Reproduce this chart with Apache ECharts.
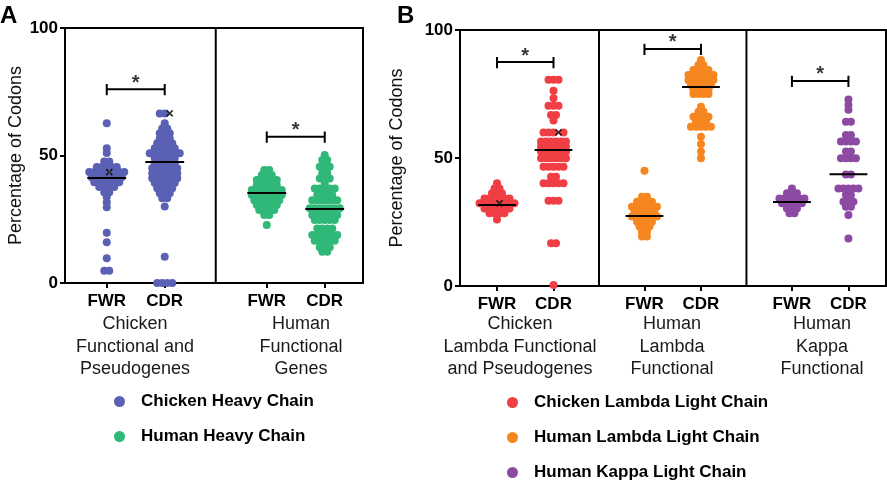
<!DOCTYPE html>
<html><head><meta charset="utf-8">
<script src="https://cdn.jsdelivr.net/npm/echarts@6/dist/echarts.min.js"></script>
<style>html,body{margin:0;padding:0;background:#fff}#c{width:887px;height:481px}</style>
</head><body><div id="c"></div>
<script>
// ---------- DATA ----------
const regionLabels = ['FWR', 'CDR'];
const yTicks = [0, 50, 100];
const yAxisTitle = 'Percentage of Codons';

const groupNamesA = ['Chicken Heavy Chain', 'Human Heavy Chain'];
const groupLabelsA = ['Chicken\nFunctional and\nPseudogenes', 'Human\nFunctional\nGenes'];
const groupNamesB = ['Chicken Lambda Light Chain', 'Human Lambda Light Chain', 'Human Kappa Light Chain'];
const groupLabelsB = ['Chicken\nLambda Functional\nand Pseudogenes', 'Human\nLambda\nFunctional', 'Human\nKappa\nFunctional'];

const chickenHeavyFWR = [62.6, 52.8, 51, 47.6, 47.6,
  45.5, 45.5, 45.5, 45.5, 45.5,
  43.5, 43.5, 43.5, 43.5, 43.5, 43.5, 43.5,
  41.5, 41.5, 41.5, 41.5, 41.5, 41.5, 41.5,
  39.5, 39.5, 39.5, 39.5, 39.5, 39.5,
  37.6, 37.6, 37.6, 37.6, 35.6, 35.6, 33.7, 31.7, 29.7, 19.7, 16, 9.7, 4.8, 4.8];
const chickenHeavyCDR = [66.5, 66.5, 62.6, 60.6, 60.6, 58.7, 58.7, 58.7, 56.7, 56.7, 56.7,
  54.8, 54.8, 54.8, 54.8, 52.8, 52.8, 52.8, 52.8, 52.8,
  50.9, 50.9, 50.9, 50.9, 50.9, 50.9, 50.9, 48.9, 48.9, 48.9, 48.9, 48.9,
  47, 47, 47, 47, 47, 45, 45, 45, 45, 45, 45, 43, 43, 43, 43, 43, 43,
  41.1, 41.1, 41.1, 41.1, 41.1, 41.1, 39.2, 39.2, 39.2, 39.2, 39.2,
  37.2, 37.2, 37.2, 37.2, 35.2, 35.2, 35.2, 33.2, 33.2, 30, 10.3, 0, 0, 0, 0];
const humanHeavyFWR = [44.3, 44.3, 42.4, 42.4, 42.4, 40.4, 40.4, 40.4, 40.4, 40.4,
  38.4, 38.4, 38.4, 38.4, 38.4, 36.5, 36.5, 36.5, 36.5, 36.5, 36.5, 36.5,
  34.5, 34.5, 34.5, 34.5, 34.5, 34.5, 34.5, 32.5, 32.5, 32.5, 32.5, 32.5, 32.5,
  30.6, 30.6, 30.6, 30.6, 30.6, 28.6, 28.6, 28.6, 28.6, 26.7, 26.7, 22.7];
const humanHeavyCDR = [50.2, 48.2, 48.2, 45.6, 45.6, 45.6, 43, 43, 41, 41, 41, 39,
  37.1, 37.1, 37.1, 37.1, 37.1, 34.5, 34.5, 34.5, 34.5, 32.5, 32.5, 32.5, 32.5, 32.5, 32.5,
  29.3, 29.3, 29.3, 29.3, 29.3, 29.3, 29.3, 26.7, 26.7, 26.7, 26.7, 26.7, 26.7,
  24.7, 24.7, 24.7, 24.7, 24.7, 21.4, 21.4, 21.4, 21.4, 18.8, 18.8, 18.8, 18.8, 18.8, 18.8,
  16.6, 16.6, 16.6, 16.6, 16.6, 14, 14, 14, 12.3, 12.3];
const chickenLambdaFWR = [40.1, 38.1, 38.1, 36.2, 36.2, 36.2, 34.2, 34.2, 34.2, 34.2, 34.2, 34.2,
  32.3, 32.3, 32.3, 32.3, 32.3, 32.3, 32.3, 30.3, 30.3, 30.3, 30.3, 30.3, 30.3,
  28.4, 28.4, 28.4, 28.4, 26];
const chickenLambdaCDR = [80.6, 80.6, 80.6, 76.3, 73.3, 70.4, 70.4, 70.4, 66.8, 66.8, 64.6,
  60, 60, 60, 60, 56.4, 56.4, 56.4, 56.4, 56.4, 56.4, 54.4, 54.4, 54.4, 54.4, 54.4, 54.4,
  52.5, 52.5, 52.5, 52.5, 52.5, 52.5, 49.9, 49.9, 49.9, 49.9, 49.9, 49.9,
  46.6, 46.6, 46.6, 46.6, 46.6, 42.7, 42.7, 40.1, 40.1, 40.1, 40.1, 40.1,
  33.3, 33.3, 33.3, 16.7, 16.7, 0.4];
const humanLambdaFWR = [45, 34.9, 34.9, 32.9, 32.9, 32.9, 32.9, 31, 31, 31, 31, 31, 31,
  29, 29, 29, 29, 29, 27.1, 27.1, 27.1, 27.1, 27.1, 27.1, 25.1, 25.1, 25.1, 25.1,
  23.2, 23.2, 23.2, 21.2, 21.2, 19.3, 19.3];
const humanLambdaCDR = [88.3, 86.3, 86.3, 84.4, 84.4, 84.4, 84.4, 82.4, 82.4, 82.4, 82.4, 82.4, 82.4,
  80.5, 80.5, 80.5, 80.5, 80.5, 80.5, 78.5, 78.5, 78.5, 78.5, 78.5, 76.6, 76.6, 76.6, 76.6,
  75, 75, 75, 75, 70, 68.1, 68.1, 66.1, 66.1, 66.1, 66.1, 64.2, 64.2, 64.2,
  62.2, 62.2, 62.2, 62.2, 62.2, 58.3, 55.5, 52.5, 49.9];
const humanKappaFWR = [38.1, 36.2, 36.2, 36.2, 34.2, 34.2, 34.2, 34.2, 34.2, 34.2,
  32.3, 32.3, 32.3, 32.3, 32.3, 30.3, 30.3, 30.3, 28.4, 28.4];
const humanKappaCDR = [72.9, 70.7, 68.8, 64.2, 64.2, 59, 59, 56.4, 56.4, 56.4, 56.4, 52.5, 52.5,
  49.9, 49.9, 49.9, 49.9, 43.6, 43.6, 38.1, 38.1, 38.1, 38.1, 38.1, 35.5, 35.5,
  32.9, 32.9, 32.9, 31, 31, 27.7, 18.6];

// values marked with a cross instead of a dot: [FWR, CDR] per group (null = none)
const crossA = [[43.5, 66.5], [null, null]];
const crossB = [[32.3, 60], [null, null], [null, null]];
// centre (horizontal black) lines: [FWR, CDR]
const centreA = [[41.2, 47.5], [35.3, 29.0]];
const centreB = [[31.6, 53.1], [27.3, 77.7], [32.8, 43.7]];
// significance bracket heights
const bracketA = [76, 57.4];
const bracketB = [87.5, 92.6, 80.1];

const colorsA = ['#5a60b4', '#2fb878'];
const colorsB = ['#ef3e44', '#f6861f', '#8d4aa3'];

// ---------- LAYOUT ----------
const GA = {left: 65, top: 28, width: 298, height: 255, xmin: -0.72, xmax: 4.42, groupStep: 2.76, gap: 40, div: [1.88]};
const GB = {left: 460, top: 30, width: 426, height: 256, xmin: -0.655, xmax: 6.885, groupStep: 2.61, gap: 54, div: [1.805, 4.415]};
const DOT = 8, STEP = 5, HALF = 0.335;
const FONT = 'Liberation Sans, Arial, sans-serif';

function positions(G, nGroups) {
  const p = [];
  for (let g = 0; g < nGroups; g++) p.push([g * G.groupStep, g * G.groupStep + 1]);
  return p;
}
function swarm(values, cross, center, pxPerUnit) {
  const rows = new Map();
  values.forEach(v => { if (!rows.has(v)) rows.set(v, 0); rows.set(v, rows.get(v) + 1); });
  if (cross != null && !rows.has(cross)) rows.set(cross, 0);
  const dots = [], crosses = [];
  rows.forEach((cnt, v) => {
    const hasX = cross === v;
    const n = cnt + (hasX ? 1 : 0);
    const xi = hasX ? (n > 4 ? Math.ceil(n / 2) : n - 1) : -1;
    for (let i = 0; i < n; i++) {
      const x = center + (i - (n - 1) / 2) * STEP / pxPerUnit;
      if (i === xi) crosses.push([x, v]); else dots.push([x, v]);
    }
  });
  return {dots, crosses};
}

const series = [];
function buildPanel(G, idx, names, colors, dataSets, crosses, centres, brackets) {
  const ppu = G.width / (G.xmax - G.xmin);
  const pos = positions(G, names.length);
  names.forEach((name, g) => {
    let dots = [], cr = [];
    for (let r = 0; r < 2; r++) {
      const s = swarm(dataSets[g][r], crosses[g][r], pos[g][r], ppu);
      dots = dots.concat(s.dots); cr = cr.concat(s.crosses);
    }
    series.push({type: 'scatter', name, xAxisIndex: idx, yAxisIndex: idx, data: dots, symbolSize: DOT,
      itemStyle: {color: colors[g], opacity: 1}, z: 2, silent: true});
    if (cr.length) series.push({type: 'scatter', name: 'cross', xAxisIndex: idx, yAxisIndex: idx, data: cr,
      symbol: 'path://M0,0L10,10M10,0L0,10', symbolSize: 6,
      itemStyle: {color: 'none', borderColor: '#000', borderWidth: 1.6}, z: 4, silent: true});
    for (let r = 0; r < 2; r++) {
      series.push({type: 'line', xAxisIndex: idx, yAxisIndex: idx, symbol: 'none', silent: true, z: 5,
        lineStyle: {color: '#000', width: 2},
        data: [[pos[g][r] - HALF, centres[g][r]], [pos[g][r] + HALF, centres[g][r]]]});
    }
    const b = brackets[g], x0 = pos[g][0], x1 = pos[g][1];
    series.push({type: 'line', xAxisIndex: idx, yAxisIndex: idx, symbol: 'none', silent: true, z: 5,
      lineStyle: {color: '#000', width: 2},
      data: [[x0, b + 2], [x0, b - 2.4], [x0, b], [x1, b], [x1, b + 2], [x1, b - 2.4]]});
    series.push({type: 'scatter', xAxisIndex: idx, yAxisIndex: idx, symbolSize: 1, silent: true, z: 6,
      itemStyle: {color: 'rgba(0,0,0,0)'}, data: [[(x0 + x1) / 2, b]],
      label: {show: true, formatter: '*', position: 'inside', offset: [0, -6], fontSize: 20, fontWeight: 'bold', color: '#000', fontFamily: FONT}});
  });
  G.div.forEach(d => series.push({type: 'line', xAxisIndex: idx, yAxisIndex: idx, symbol: 'none', silent: true, z: 5,
    lineStyle: {color: '#000', width: 2}, data: [[d, 0], [d, 100]]}));
  return pos;
}
const posA = buildPanel(GA, 0, groupNamesA, colorsA,
  [[chickenHeavyFWR, chickenHeavyCDR], [humanHeavyFWR, humanHeavyCDR]], crossA, centreA, bracketA);
const posB = buildPanel(GB, 1, groupNamesB, colorsB,
  [[chickenLambdaFWR, chickenLambdaCDR], [humanLambdaFWR, humanLambdaCDR], [humanKappaFWR, humanKappaCDR]], crossB, centreB, bracketB);

function xAxis(G, idx, pos) {
  const vals = [].concat(...pos);
  return {type: 'value', gridIndex: idx, min: G.xmin, max: G.xmax,
    axisLine: {show: true, onZero: false, lineStyle: {color: '#000', width: 2}},
    axisTick: {show: true, customValues: vals, length: 5, lineStyle: {color: '#000', width: 2}},
    axisLabel: {show: true, customValues: vals, margin: 10, fontSize: 17, fontWeight: 'bold', color: '#000', fontFamily: FONT,
      formatter: v => { const i = vals.findIndex(t => Math.abs(t - v) < 1e-6); return i < 0 ? '' : regionLabels[i % 2]; }},
    splitLine: {show: false}};
}
function yAxis(G, idx) {
  return {type: 'value', gridIndex: idx, min: yTicks[0], max: yTicks[yTicks.length - 1], interval: yTicks[1] - yTicks[0],
    name: yAxisTitle, nameLocation: 'middle', nameGap: G.gap, nameRotate: 90,
    nameTextStyle: {fontSize: 18, color: '#111', fontFamily: FONT},
    axisLine: {show: true, onZero: false, lineStyle: {color: '#000', width: 2}},
    axisTick: {show: true, length: 5, lineStyle: {color: '#000', width: 2}},
    axisLabel: {margin: 7, fontSize: 17, fontWeight: 'bold', color: '#000', fontFamily: FONT},
    splitLine: {show: false}};
}

const groupTexts = [];
const labelXA = [135, 301], labelXB = [520, 672, 822];
groupLabelsA.forEach((t, i) => groupTexts.push({type: 'text', x: labelXA[i], y: 313,
  style: {text: t, align: 'center', verticalAlign: 'top', fontSize: 18, lineHeight: 22.5, fontFamily: FONT, fill: '#1a1a1a'}}));
groupLabelsB.forEach((t, i) => groupTexts.push({type: 'text', x: labelXB[i], y: 313,
  style: {text: t, align: 'center', verticalAlign: 'top', fontSize: 18, lineHeight: 22.5, fontFamily: FONT, fill: '#1a1a1a'}}));

const legendBase = {orient: 'vertical', icon: 'circle', itemWidth: 11, itemHeight: 11, itemGap: 18, padding: 0,
  selectedMode: false, textStyle: {fontSize: 17, fontWeight: 'bold', color: '#000', fontFamily: FONT, padding: [0, 0, 0, 11]}};

const chart = echarts.init(document.getElementById('c'), null, {renderer: 'canvas'});
chart.setOption({
  animation: false,
  backgroundColor: '#fff',
  grid: [
    {left: GA.left, top: GA.top, width: GA.width, height: GA.height, show: true, borderColor: '#000', borderWidth: 2, containLabel: false},
    {left: GB.left, top: GB.top, width: GB.width, height: GB.height, show: true, borderColor: '#000', borderWidth: 2, containLabel: false}
  ],
  xAxis: [xAxis(GA, 0, posA), xAxis(GB, 1, posB)],
  yAxis: [yAxis(GA, 0), yAxis(GB, 1)],
  legend: [
    Object.assign({}, legendBase, {left: 114, top: 393, data: groupNamesA}),
    Object.assign({}, legendBase, {left: 507, top: 394, data: groupNamesB})
  ],
  graphic: groupTexts.concat([
    {type: 'text', x: 0, y: 16, style: {text: 'A', fontSize: 24, fontWeight: 'bold', fontFamily: FONT, fill: '#000', verticalAlign: 'middle'}},
    {type: 'text', x: 397, y: 16, style: {text: 'B', fontSize: 24, fontWeight: 'bold', fontFamily: FONT, fill: '#000', verticalAlign: 'middle'}}
  ]),
  series
});
</script></body></html>
